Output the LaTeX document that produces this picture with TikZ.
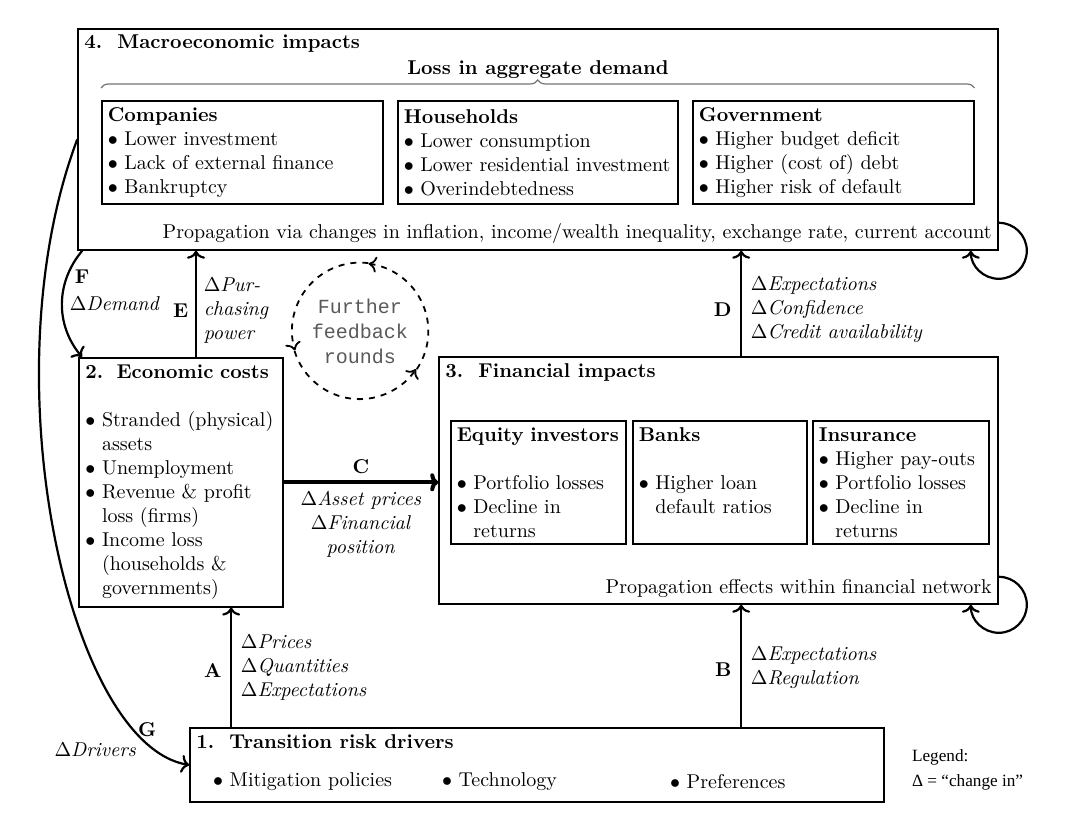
\documentclass[tikz,border=0pt]{standalone}
\usepackage{amsmath, amssymb}
\usepackage{fontspec}
\newfontfamily\monofont{Liberation Mono}
\newfontfamily\legendfont{Liberation Serif}
\usepackage{tikz}
\usetikzlibrary{arrows.meta}
\usetikzlibrary{positioning,decorations.pathreplacing}
\usetikzlibrary{calc,fit}
\tikzset{
    box/.style={
        draw,
        line width=0.8pt,
        inner sep=0pt
    },
    subbox/.style={
        draw,
        line width=0.8pt,
        anchor=north west,
        align=left,
        inner sep=3pt
    },
    flow/.style={
        draw,
        line width=1.1pt,
        -{To[length=4pt, width=9pt]}
    },
    loopy/.style={
        draw,
        line width=0.9pt,
        dashed,
        -{To[length=4pt, width=8pt]}
    },
    feedback/.style={
        circle,
        minimum size=68pt,
        inner sep=0pt,
        align=center,
        text=black!65,
        font=\monofont\fontsize{10}{12.5}\selectfont
    }
}
\newcommand{\itm}[1]{\mbox{\makebox[8.3pt][l]{$\bullet$}#1}}
\newcommand{\itmgap}[1]{\mbox{\hspace*{8.3pt}#1}}

\begin{document}
\begin{tikzpicture}[x=0.5pt, y=0.5pt]
  \useasboundingbox (0,0) rectangle (1066,820);

  % 4. Macroeconomic impacts
  \node[box, fit={(78,570) (998,791)}] (macro) {};
  \node[anchor=north west] (macrotitle) at (macro.north west) {\textbf{4.\ \ Macroeconomic impacts}};
  \node (aggtitle) at (538,750) {\textbf{Loss in aggregate demand}};

  \node[subbox, text width=134.5pt, minimum height=51.5pt] (comp) at (101,720)
    {\textbf{Companies}\\ \itm{Lower investment}\\ \itm{Lack of external finance}\\ \itm{Bankruptcy}};
  \node[subbox, text width=134pt, minimum height=51.5pt] (house) at (397,720)
    {\textbf{Households}\\ \itm{Lower consumption}\\ \itm{Lower residential investment}\\ \itm{Overindebtedness}};
  \node[subbox, text width=134.5pt, minimum height=51.5pt] (gov) at (692,720)
    {\textbf{Government}\\ \itm{Higher budget deficit}\\ \itm{Higher (cost of) debt}\\ \itm{Higher risk of default}};

  \draw[black!55, semithick, decorate, decoration={brace, amplitude=4pt}]
    ($(comp.north west)+(0,12)$) -- ($(gov.north east)+(0,12)$);

  \node[anchor=south east] (macroprop) at (macro.south east)
    {Propagation via changes in inflation, income/wealth inequality, exchange rate, current account};

  % 2. Economic costs
  \node[subbox, text width=95.4pt, minimum height=124.5pt, inner sep=3.3pt] (eco) at (78,463)
    {\textbf{2.\ \ Economic costs}\\[12pt]
     \itm{Stranded (physical)}\\ \itmgap{assets}\\
     \itm{Unemployment}\\
     \itm{Revenue \& profit}\\ \itmgap{loss (firms)}\\
     \itm{Income loss}\\ \itmgap{(households \&}\\ \itmgap{governments)}};

  % 3. Financial impacts
  \node[box, fit={(439,216) (998,463)}] (fin) {};
  \node[anchor=north west] (fintitle) at (fin.north west) {\textbf{3.\ \ Financial impacts}};

  \node[subbox, text width=81.5pt, minimum height=61.5pt] (equity) at (450,400)
    {\textbf{\mbox{Equity investors}}\\[12pt] \itm{Portfolio losses}\\ \itm{Decline in}\\ \itmgap{returns}};
  \node[subbox, text width=81pt, minimum height=61.5pt] (banks) at (632,400)
    {\textbf{Banks}\\[12pt] \itm{Higher loan}\\ \itmgap{default ratios}\\ ~};
  \node[subbox, text width=82pt, minimum height=61.5pt] (insur) at (812,400)
    {\textbf{Insurance}\\ \itm{Higher pay-outs}\\ \itm{Portfolio losses}\\ \itm{Decline in}\\ \itmgap{returns}};

  \node[anchor=south east] (finprop) at (fin.south east) {Propagation effects within financial network};

  % 1. Transition risk drivers
  \node[box, fit={(190,18) (884,92)}] (drv) {};
  \node[anchor=north west] (drvtitle) at (drv.north west) {\textbf{1.\ \ Transition risk drivers}};
  \node[anchor=west] (mitig) at (206,38) {\itm{Mitigation policies}};
  \node[anchor=west] (techn) at (435,38) {\itm{Technology}};
  \node[anchor=west] (prefs) at (663,38) {\itm{Preferences}};

  % Legend
  \node[anchor=west, align=left, font=\legendfont\fontsize{8.6}{12.5}\selectfont] (legend) at (905,50)
    {Legend:\\ Δ = “change in”};

  % Further feedback rounds
  \node[feedback] (fb) at (360,489) {Further\\feedback\\rounds};
  \draw[loopy] (fb.-34) arc[start angle=-34, end angle=83, radius=34pt];
  \draw[loopy] (fb.83) arc[start angle=83, end angle=197, radius=34pt];
  \draw[loopy] (fb.197) arc[start angle=197, end angle=326, radius=34pt];

  % Channels
  \coordinate (a0) at ($(drv.north west)+(42,0)$);
  \coordinate (b0) at ($(drv.north west)+(552,0)$);
  \coordinate (d0) at ($(fin.north west)+(303,0)$);
  \coordinate (e0) at ($(eco.north west)+(118,0)$);

  \draw[flow] (a0) -- (a0 |- eco.south)
    node[pos=0.47, left=1pt] (labA) {\textbf{A}}
    node[pos=0.5, right=1pt, align=left] (txtA) {$\Delta$\textit{Prices}\\ $\Delta$\textit{Quantities}\\ $\Delta$\textit{Expectations}};
  \draw[flow] (b0) -- (b0 |- fin.south)
    node[pos=0.47, left=1pt] (labB) {\textbf{B}}
    node[pos=0.49, right=1pt, align=left] (txtB) {$\Delta$\textit{Expectations}\\ $\Delta$\textit{Regulation}};
  \draw[flow, line width=2pt] (eco.east) -- (eco.east -| fin.west)
    node[midway, above] (labC) {\textbf{C}}
    node[midway, below, align=center] (txtC) {$\Delta$\textit{Asset prices}\\ $\Delta$\textit{Financial}\\ \textit{position}};
  \draw[flow] (d0) -- (d0 |- macro.south)
    node[pos=0.44, left=1pt] (labD) {\textbf{D}}
    node[pos=0.44, right=1pt, align=left] (txtD) {$\Delta$\textit{Expectations}\\ $\Delta$\textit{Confidence}\\ $\Delta$\textit{Credit availability}};
  \draw[flow] (e0) -- (e0 |- macro.south)
    node[pos=0.44, left] (labE) {\textbf{E}}
    node[pos=0.44, right, align=left] (txtE) {$\Delta$\textit{Pur-}\\ \textit{chasing}\\ \textit{power}};
  \draw[flow] ($(macro.south west)+(5,0)$) to[bend right=40]
    node[pos=0.25, right] (labF) {\textbf{F}}
    node[pos=0.5, right] (txtF) {$\Delta$\textit{Demand}}
    ($(eco.north west)+(4,0)$);
  \draw[flow] (macro.west) .. controls +(-90,-240) and +(-120,20) .. (drv.west)
    node[pos=0.9, above left=-1pt, xshift=4pt, yshift=3pt] (labG) {\textbf{G}}
    node[pos=0.88, left=2pt, yshift=-3pt] (txtG) {$\Delta$\textit{Drivers}};

  % Propagation loops
  \draw[flow] ($(macro.south east)+(0,28)$) arc[start angle=90, end angle=-180, radius=14pt];
  \draw[flow] ($(fin.south east)+(0,28)$) arc[start angle=90, end angle=-180, radius=14pt];
\end{tikzpicture}
\end{document}
